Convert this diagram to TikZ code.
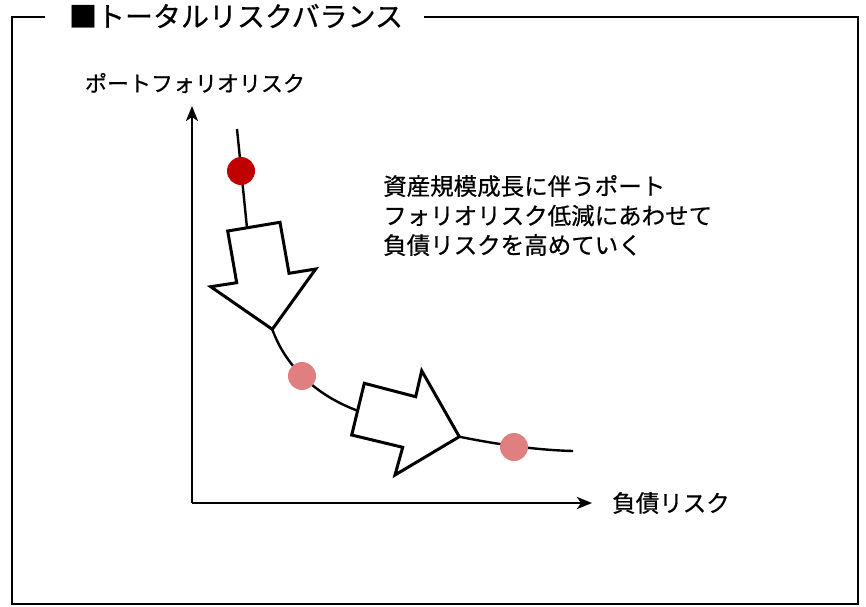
\documentclass[tikz,border=0pt]{standalone}
\usepackage{fontspec}
\setmainfont{Noto Sans CJK JP}[RawFeature={embolden=0.6}]
\usetikzlibrary{arrows.meta}
\definecolor{dotred}{HTML}{C00000}
\definecolor{dotpink}{HTML}{DF7F7F}
\begin{document}
\begin{tikzpicture}[x=1pt,y=-1pt,
  frameline/.style={line width=2.4pt,line join=miter},
  axisline/.style={line width=2.6pt,-{Stealth[length=15pt,width=12pt,inset=4pt]}},
  curveline/.style={line width=2.4pt},
  bigarrow/.style={line width=3pt,fill=white,line join=miter},
  dotnode/.style={circle,inner sep=0pt,minimum size=28pt,draw=none},
  lbl/.style={inner sep=0pt,font=\fontsize{23.5}{29.5}\selectfont}]
\useasboundingbox (0,0) rectangle (866,606);
% frame
\draw[frameline] (45,17) -- (12,17) -- (12,604) -- (858,604) -- (858,17) -- (424,17);
\node[inner sep=0pt,font=\fontsize{28}{30}\selectfont] (title) at (236,16) {■トータルリスクバランス};
% axes
\coordinate (origin) at (192,503);
\coordinate (ytop) at (192,106);
\coordinate (xend) at (592,503);
\draw[axisline] (origin) -- (ytop);
\draw[axisline] (origin) -- (xend);
\node[lbl,font=\fontsize{22}{26}\selectfont] (ylab) at (195,83) {ポートフォリオリスク};
\node[lbl] (xlab) at (671,503) {負債リスク};
\node[lbl,anchor=west,align=left] (desc) at (383,215.5) {資産規模成長に伴うポート\\フォリオリスク低減にあわせて\\負債リスクを高めていく};
% curve
\coordinate (c0) at (237,129);
\coordinate (a1top) at (247,228);
\coordinate (a1tip) at (272.3,329.3);
\coordinate (a2tail) at (357.6,410.7);
\coordinate (a2tip) at (459.3,436.7);
\coordinate (c3) at (573,451);
\draw[curveline] (c0) -- (a1top);
\draw[curveline] (a1tip) .. controls (285,365) and (315,395) .. (a2tail);
\draw[curveline] (a2tip) .. controls (495,444) and (535,450) .. (c3);
% big arrows
\draw[bigarrow] (227.7,231) -- (280,222.3) -- (289,273.3) -- (315.7,269) -- (a1tip) -- (210.7,286.7) -- (236.7,282.7) -- cycle;
\draw[bigarrow] (364.3,383.3) -- (415.7,396.7) -- (421.7,370.7) -- (a2tip) -- (395,475) -- (402.7,447.3) -- (351.7,435) -- cycle;
% dots
\node[dotnode,fill=dotred] (d1) at (241,171) {};
\node[dotnode,fill=dotpink] (d2) at (302,376) {};
\node[dotnode,fill=dotpink] (d3) at (514,447) {};
\end{tikzpicture}
\end{document}
